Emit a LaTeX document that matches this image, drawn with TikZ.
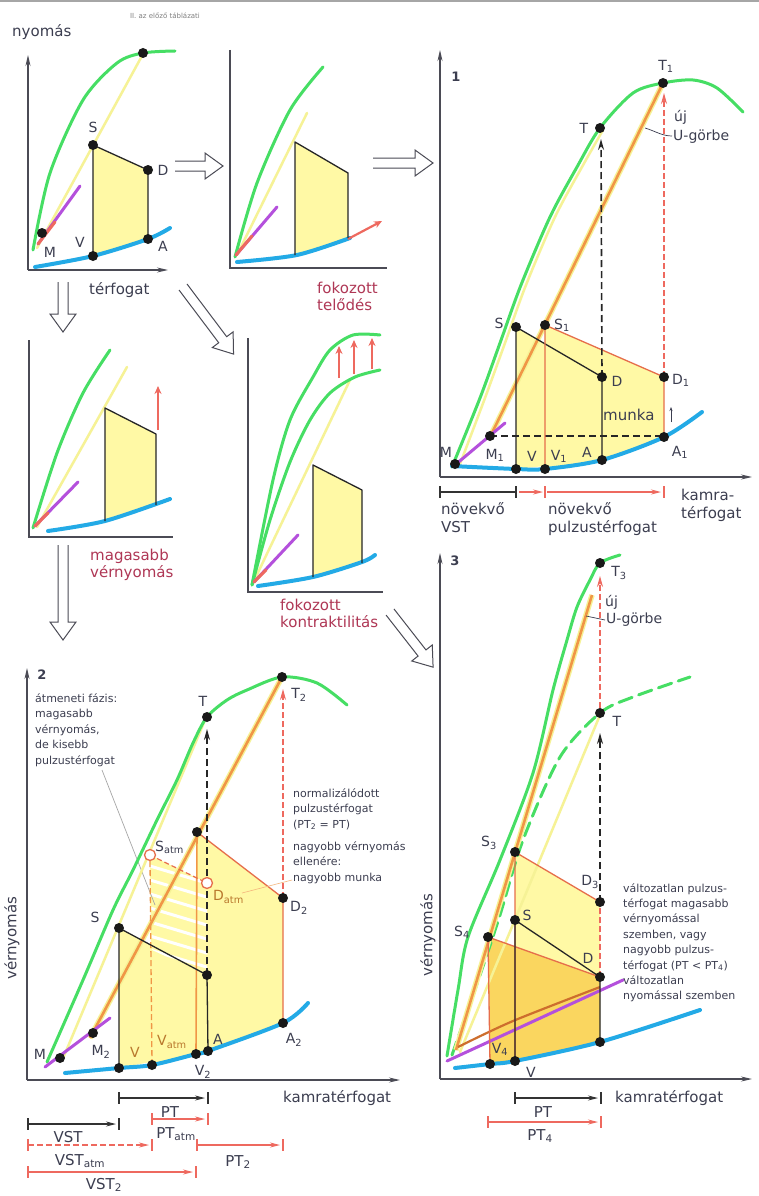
\documentclass[tikz,border=0pt]{standalone}
\usepackage{fontspec}
\setmainfont{DejaVu Sans}
\usetikzlibrary{arrows.meta}
\definecolor{grn}{RGB}{70,222,100}
\definecolor{paley}{RGB}{246,242,150}
\definecolor{fillY}{RGB}{255,249,165}
\definecolor{goldY}{RGB}{250,214,95}
\definecolor{blu}{RGB}{35,170,230}
\definecolor{purp}{RGB}{180,80,220}
\definecolor{orng}{RGB}{240,150,70}
\definecolor{redl}{RGB}{238,105,95}
\definecolor{rline}{RGB}{230,110,75}
\definecolor{maroon}{RGB}{175,55,85}
\definecolor{txt}{RGB}{60,62,80}
\definecolor{axc}{RGB}{75,75,85}
\definecolor{brn}{RGB}{205,110,45}
\definecolor{atmc}{RGB}{185,120,45}
\tikzset{
 axis/.style={draw=axc, line width=1.3pt},
 axarr/.style={axis, -{Stealth[length=11pt,width=5pt]}},
 gcurve/.style={draw=grn, line width=3pt, line cap=round},
 ycurve/.style={draw=paley, line width=2.5pt, line cap=round},
 bcurve/.style={draw=blu, line width=4pt, line cap=round},
 pcurve/.style={draw=purp, line width=3pt, line cap=round},
 rcurve/.style={draw=redl, line width=3pt, line cap=round},
 ocurve/.style={draw=orng, line width=2.6pt},
 oborder/.style={draw=paley, line width=5.5pt},
 quad/.style={draw=black!85, line width=1.3pt, line join=round},
 rquad/.style={draw=rline, line width=1.3pt, line join=round},
 lab/.style={text=txt, font=\fontsize{14}{16}\selectfont, inner sep=0pt},
 axlab/.style={text=txt, font=\fontsize{15}{18}\selectfont, inner sep=0pt},
 small/.style={text=txt, font=\fontsize{11}{15.5}\selectfont, inner sep=0pt, align=left, anchor=north west},
 redlab/.style={text=maroon, font=\fontsize{15}{17}\selectfont, inner sep=0pt, align=left, anchor=north west},
 numlab/.style={text=txt, font=\bfseries\fontsize{13}{15}\selectfont, inner sep=0pt},
 harrowst/.style={draw=axc, line width=1pt, fill=white, line join=miter},
 dashblk/.style={draw=black!85, line width=1.6pt, dash pattern=on 7pt off 4pt, -{Stealth[length=11pt,width=6pt]}},
 dashred/.style={draw=redl, line width=1.2pt, dash pattern=on 6pt off 3pt, -{Stealth[length=11pt,width=6pt]}},
 barblk/.style={draw=black!80, line width=1.3pt},
 barred/.style={draw=redl, line width=1.3pt},
 tipb/.style={-{Stealth[length=10pt,width=5pt]}},
 redarr/.style={draw=redl, line width=2.2pt, -{Stealth[length=8pt,width=7pt]}},
}
\newcommand\harr[4]{\begin{scope}[shift={(#1,#2)},rotate=#3]
 \draw[harrowst] (0,5) -- ({#4-18},5) -- ({#4-18},13) -- (#4,0) -- ({#4-18},-13) -- ({#4-18},-5) -- (0,-5);
 \end{scope}}
\newcommand\dt[1]{\fill[black!90] (#1) circle (5pt);}
\newcommand\tk[3]{\draw[#3, line width=1.3pt] (#1,{#2-6}) -- (#1,{#2+6});}
\begin{document}
\begin{tikzpicture}[x=1pt,y=-1pt]
\useasboundingbox (0,0) rectangle (759,1196);
\fill[white] (0,0) rectangle (759,1196);
\draw[gray!70, line width=2pt] (0,1) -- (759,1);
\node[text=gray, font=\fontsize{7}{8}\selectfont, inner sep=0pt] (hdr) at (165,16) {II. az előző táblázati};

% ---------- hollow arrows between panels ----------
\harr{175}{166}{0}{48}
\harr{373}{163}{0}{60}
\harr{63}{282}{-90}{50}
\harr{183}{287}{-53}{84}
\harr{63}{545}{-90}{95}
\harr{390}{612}{-52}{70}

% ---------- Panel A ----------
\draw[axarr] (28,270) -- (28,55);
\draw[axarr] (28,270) -- (168,270);
\fill[fillY] (93,145) -- (148,170) -- (148,239) -- (93,256) -- cycle;
\draw[ycurve] (37,248) -- (143,54);
\draw[gcurve] plot[smooth] coordinates {(33,250) (50,173) (83,100) (117,63) (143,53) (175,51)};
\draw[pcurve] (38,244) -- (80,186);
\draw[rcurve] (38,244) -- (55,222);
\draw[bcurve] plot[smooth] coordinates {(35,267) (93,256) (148,239) (170,228)};
\draw[quad] (93,256) -- (93,145) -- (148,170) -- (148,239);
\dt{143,53} \dt{93,145} \dt{148,170} \dt{148,239} \dt{93,256} \dt{42,233}
\node[axlab,anchor=west] (tnyo) at (12,32) {nyomás};
\node[lab] (aS) at (93,127) {S};
\node[lab] (aD) at (163,170) {D};
\node[lab] (aV) at (80,242) {V};
\node[lab] (aA) at (163,246) {A};
\node[lab] (aM) at (50,252) {M};
\node[axlab,anchor=west] (aterf) at (89,290) {térfogat};

% ---------- Panel B ----------
\draw[axis] (230,50) -- (230,268) -- (387,268);
\fill[fillY] (295,142) -- (348,173) -- (348,238) -- (295,255) -- cycle;
\draw[ycurve] (237,255) -- (307,113);
\draw[gcurve] plot[smooth] coordinates {(235,257) (257,183) (290,110) (323,67)};
\draw[pcurve] (236,255) -- (277,207);
\draw[rcurve] (236,255) -- (252,236);
\draw[bcurve] plot[smooth] coordinates {(237,262) (297,255) (350,238)};
\draw[redarr] (348,239) -- (382,221);
\draw[quad] (295,255) -- (295,142) -- (348,173) -- (348,238);
\node[redlab] (bfok) at (317,282) {fokozott\\telődés};

% ---------- Panel C ----------
\draw[axis] (29,340) -- (29,537) -- (173,537);
\fill[fillY] (105,408) -- (156,434) -- (156,505) -- (105,521) -- cycle;
\draw[ycurve] (37,527) -- (127,367);
\draw[gcurve] plot[smooth] coordinates {(33,528) (57,453) (83,393) (110,350)};
\draw[pcurve] (35,526) -- (78,482);
\draw[rcurve] (35,526) -- (48,513);
\draw[bcurve] plot[smooth] coordinates {(48,531) (105,521) (170,499)};
\draw[quad] (105,521) -- (105,408) -- (156,434) -- (156,505);
\draw[redarr] (158,430) -- (158,386);
\node[redlab] (cmag) at (90,549) {magasabb\\vérnyomás};

% ---------- Panel D ----------
\draw[axis] (248,338) -- (248,592) -- (383,592);
\fill[fillY] (313,465) -- (362,490) -- (362,563) -- (313,577) -- cycle;
\draw[ycurve] (253,583) -- (350,380);
\draw[gcurve] plot[smooth] coordinates {(252,585) (273,480) (290,420) (313,377) (330,350) (353,335) (380,335)};
\draw[gcurve] plot[smooth] coordinates {(252,585) (270,520) (290,462) (310,420) (330,393) (355,377) (380,370)};
\draw[redarr] (339,378) -- (339,346);
\draw[redarr] (354,374) -- (354,340);
\draw[redarr] (372,369) -- (372,338);
\draw[pcurve] (254,582) -- (298,535);
\draw[rcurve] (254,582) -- (266,570);
\draw[bcurve] plot[smooth] coordinates {(258,586) (313,577) (362,562) (375,555)};
\draw[quad] (313,577) -- (313,465) -- (362,490) -- (362,563);
\node[redlab] (dfok) at (280,599) {fokozott\\kontraktilitás};

% ---------- Panel 1 ----------
\draw[axarr] (440,477) -- (440,50);
\draw[axarr] (440,477) -- (752,477);
\node[numlab] (n1) at (456,77) {1};
\fill[fillY] (516,327) -- (602,377) -- (602,460) -- (516,469) -- cycle;
\fill[fillY] (545,325) -- (664,377) -- (664,437) -- (602,460) -- (545,469) -- cycle;
\draw[ycurve, xshift=5pt] plot[smooth] coordinates {(455,464) (480,398) (500,343) (521,285) (550,217) (577,167) (598,130)};
\draw[gcurve] plot[smooth] coordinates {(452,467) (480,398) (500,343) (521,285) (550,217) (577,167) (600,128) (633,93) (663,83) (693,80) (717,88) (743,112)};
\draw[oborder] (490,437) -- (663,83);
\draw[ocurve] (490,437) -- (663,83);
\draw[pcurve] (455,465) -- (505,423);
\draw[bcurve] plot[smooth] coordinates {(452,466) (516,469) (545,469) (602,460) (664,437) (702,412)};
\draw[black!85, line width=1.4pt, dash pattern=on 7pt off 4pt] (490,436) -- (664,436);
\draw[quad] (516,469) -- (516,327) -- (602,377) -- (602,460);
\draw[rquad] (545,469) -- (545,325) -- (664,377) -- (664,437);
\draw[dashblk] (602,377) -- (601,139);
\draw[dashred] (664,377) -- (664,93);
\draw[txt, line width=0.8pt, -{Stealth[length=4pt,width=3pt]}] (671,422) -- (671,407);
\draw[txt, line width=0.7pt] (645,128) .. controls (655,131) and (662,136) .. (672,136);
\dt{600,128} \dt{663,83} \dt{516,327} \dt{545,325} \dt{602,377} \dt{664,377}
\dt{455,464} \dt{490,436} \dt{516,469} \dt{545,469} \dt{602,460} \dt{664,437}
\node[lab] (pT) at (584,128) {T};
\node[lab] (pT1) at (666,66) {T\textsubscript{1}};
\node[lab,anchor=west] (puj) at (674,117) {új};
\node[lab,anchor=west] (pUg) at (673,137) {U-görbe};
\node[lab] (pS) at (499,323) {S};
\node[lab,anchor=west] (pS1) at (554,325) {S\textsubscript{1}};
\node[lab] (pD) at (617,381) {D};
\node[lab,anchor=west] (pD1) at (672,380) {D\textsubscript{1}};
\node[axlab,anchor=west] (pmunka) at (603,415) {munka};
\node[lab] (pM) at (446,452) {M};
\node[lab] (pM1) at (495,455) {M\textsubscript{1}};
\node[lab] (pV) at (532,456) {V};
\node[lab] (pV1) at (559,456) {V\textsubscript{1}};
\node[lab] (pA) at (587,452) {A};
\node[lab] (pA1) at (680,452) {A\textsubscript{1}};
\draw[barblk] (440,492) -- (516,492);
\tk{440}{492}{black!80} \tk{516}{492}{black!80}
\draw[barred,tipb] (519,492) -- (543,492);
\draw[barred,tipb] (547,492) -- (661,492);
\tk{545}{492}{redl} \tk{664}{492}{redl}
\node[axlab,anchor=north west,align=left] (pnv) at (441,502) {növekvő\\VST};
\node[axlab,anchor=north west,align=left] (pnp) at (548,502) {növekvő\\pulzustérfogat};
\node[axlab,anchor=north west,align=left] (pkt) at (681,489) {kamra-\\térfogat};

% ---------- Panel 2 ----------
\draw[axarr] (27,1080) -- (27,668);
\draw[axarr] (27,1080) -- (400,1080);
\node[numlab] (n2) at (42,675) {2};
\node[axlab,rotate=90] (vny2) at (12,938) {vérnyomás};
\fill[fillY] (197,832) -- (283,898) -- (283,1023) -- (196,1054) -- cycle;
\fill[fillY] (119,928) -- (207,975) -- (208,1051) -- (119,1068) -- cycle;
\fill[fillY] (150,855) -- (207,883) -- (207,1051) -- (152,1065) -- cycle;
\begin{scope}
\clip (150,855) -- (207,883) -- (207,975) -- (152,950) -- cycle;
\foreach \k in {0,...,9} \draw[white, line width=3pt] (140,{835+\k*14}) -- (220,{859+\k*14});
\end{scope}
\draw[gray!70, line width=0.7pt] (102,770) -- (155,905);
\draw[ycurve] (64,1056) -- (205,720);
\draw[gcurve] plot[smooth] coordinates {(47,1062) (83,980) (113,910) (133,870) (157,820) (177,780) (193,743) (207,717) (227,700) (247,690) (282,677) (317,683) (347,705)};
\draw[oborder] (90,1038) -- (282,677);
\draw[ocurve] (90,1038) -- (282,677);
\draw[pcurve] (45,1067) -- (110,1018);
\draw[bcurve] plot[smooth] coordinates {(65,1073) (119,1068) (152,1065) (196,1054) (208,1051) (283,1023) (308,1003)};
\draw[orng, line width=1.3pt, dash pattern=on 6pt off 3pt] (152,1065) -- (150,860);
\draw[orng, line width=1.6pt] (196,1054) -- (197,832);
\draw[rquad] (197,832) -- (283,898) -- (283,1023);
\draw[rline, line width=1.2pt, dash pattern=on 5pt off 3pt] (150,855) -- (207,883);
\draw[quad] (119,1068) -- (119,928) -- (207,975) -- (208,1051);
\draw[dashblk] (207,975) -- (207,729);
\draw[dashred] (283,898) -- (283,689);
\draw[orng!70, line width=0.6pt] (242,893) -- (292,880);
\dt{60,1058} \dt{93,1033} \dt{119,928} \dt{207,975} \dt{119,1068} \dt{152,1065}
\dt{196,1054} \dt{208,1051} \dt{283,1023} \dt{283,898} \dt{197,832} \dt{207,717} \dt{282,677}
\draw[rline, line width=1.3pt, fill=white] (150,855) circle (5.5pt);
\draw[rline, line width=1.3pt, fill=white] (207,883) circle (5.5pt);
\node[lab] (qT) at (203,701) {T};
\node[lab] (qT2) at (299,695) {T\textsubscript{2}};
\node[lab] (qS) at (95,917) {S};
\node[lab,anchor=west] (qSa) at (155,847) {S\textsubscript{atm}};
\node[lab,anchor=west,text=atmc] (qDa) at (213,897) {D\textsubscript{atm}};
\node[lab] (qD2) at (299,908) {D\textsubscript{2}};
\node[lab] (qM) at (40,1054) {M};
\node[lab] (qM2) at (101,1052) {M\textsubscript{2}};
\node[lab,text=atmc] (qV) at (135,1052) {V};
\node[lab,anchor=west,text=atmc] (qVa) at (157,1042) {V\textsubscript{atm}};
\node[lab] (qA) at (218,1039) {A};
\node[lab] (qV2) at (203,1072) {V\textsubscript{2}};
\node[lab] (qA2) at (294,1040) {A\textsubscript{2}};
\node[small] (qtx1) at (35,693) {átmeneti fázis:\\magasabb\\vérnyomás,\\de kisebb\\pulzustérfogat};
\node[small] (qtx2) at (293,788) {normalizálódott\\pulzustérfogat\\(PT\textsubscript{2} = PT)};
\node[small] (qtx3) at (293,841) {nagyobb vérnyomás\\ellenére:\\nagyobb munka};
\draw[barblk,tipb] (119,1098) -- (205,1098);
\tk{119}{1098}{black!80} \tk{208}{1098}{black!80}
\draw[barred,tipb] (152,1119) -- (205,1119);
\tk{152}{1119}{redl} \tk{208}{1119}{redl}
\draw[barblk,tipb] (28,1124) -- (116,1124);
\tk{28}{1124}{black!80} \tk{119}{1124}{black!80}
\draw[barred,dash pattern=on 6pt off 3pt,tipb] (28,1145) -- (149,1145);
\tk{28}{1145}{redl} \tk{152}{1145}{redl}
\draw[barred,tipb] (197,1145) -- (280,1145);
\tk{197}{1145}{redl} \tk{283}{1145}{redl}
\draw[barred,tipb] (28,1172) -- (193,1172);
\tk{28}{1172}{redl} \tk{196}{1172}{redl}
\node[axlab] (qPT) at (170,1112) {PT};
\node[axlab] (qPTa) at (176,1134) {PT\textsubscript{atm}};
\node[axlab] (qVST) at (68,1137) {VST};
\node[axlab] (qVSTa) at (80,1161) {VST\textsubscript{atm}};
\node[axlab] (qPT2) at (238,1162) {PT\textsubscript{2}};
\node[axlab] (qVST2) at (104,1185) {VST\textsubscript{2}};
\node[axlab,anchor=west] (qkt) at (283,1098) {kamratérfogat};

% ---------- Panel 3 ----------
\draw[axarr] (440,1079) -- (440,553);
\draw[axarr] (440,1079) -- (752,1079);
\node[numlab] (n3) at (455,561) {3};
\node[axlab,rotate=90] (vny3) at (428,935) {vérnyomás};
\fill[fillY] (515,852) -- (600,902) -- (600,1042) -- (515,1061) -- cycle;
\fill[goldY] (488,937) -- (600,977) -- (600,1042) -- (515,1061) -- (490,1064) -- cycle;
\draw[ycurve] (460,1052) -- (600,715);
\draw[gcurve, dash pattern=on 14pt off 7pt] plot[smooth] coordinates {(452,1055) (480,975) (500,915) (523,840) (560,757) (600,713) (633,697) (690,677)};
\draw[gcurve] plot[smooth] coordinates {(447,1056) (458,990) (468,937) (500,860) (533,773) (553,690) (567,640) (577,607) (590,580) (600,563) (620,555)};
\draw[oborder] (456,1050) -- (592,595);
\draw[ocurve] (456,1050) -- (592,595);
\draw[pcurve] (447,1061) -- (623,980);
\draw[brn, line width=2.2pt] plot[smooth] coordinates {(458,1047) (513,1021) (600,987)};
\draw[bcurve] plot[smooth] coordinates {(455,1068) (490,1064) (515,1061) (600,1042) (700,1010)};
\draw[rquad] (515,1061) -- (515,852) -- (600,902);
\draw[rquad] (490,1064) -- (488,937) -- (600,977);
\draw[quad] (515,1061) -- (515,920) -- (600,977) -- (600,1042);
\draw[dashblk] (600,902) -- (600,733);
\draw[redl, line width=1.4pt, dash pattern=on 6pt off 3pt] (600,977) -- (600,902);
\draw[dashred] (600,708) -- (600,576);
\draw[txt, line width=0.7pt] (586,616) -- (605,620);
\dt{600,563} \dt{600,713} \dt{515,852} \dt{600,902} \dt{515,920} \dt{488,937}
\dt{600,977} \dt{600,1042} \dt{490,1064} \dt{515,1061}
\node[lab] (rT3) at (619,573) {T\textsubscript{3}};
\node[lab] (rT) at (617,721) {T};
\node[lab,anchor=west] (ruj) at (605,602) {új};
\node[lab,anchor=west] (rUg) at (606,620) {U-görbe};
\node[lab] (rS3) at (489,843) {S\textsubscript{3}};
\node[lab] (rD3) at (590,882) {D\textsubscript{3}};
\node[lab] (rS) at (527,915) {S};
\node[lab] (rS4) at (462,932) {S\textsubscript{4}};
\node[lab] (rD) at (588,958) {D};
\node[lab] (rV4) at (500,1049) {V\textsubscript{4}};
\node[lab] (rV) at (531,1072) {V};
\node[small,font=\fontsize{11}{15.4}\selectfont] (rtx) at (623,883) {változatlan pulzus-\\térfogat magasabb\\vérnyomással\\szemben, vagy\\nagyobb pulzus-\\térfogat (PT < PT\textsubscript{4})\\változatlan\\nyomással szemben};
\draw[barblk,tipb] (515,1098) -- (598,1098);
\tk{515}{1098}{black!80} \tk{601}{1098}{black!80}
\draw[barred,tipb] (488,1122) -- (598,1122);
\tk{488}{1122}{redl} \tk{601}{1122}{redl}
\node[axlab] (rPT) at (543,1112) {PT};
\node[axlab] (rPT4) at (540,1136) {PT\textsubscript{4}};
\node[axlab,anchor=west] (rkt) at (615,1098) {kamratérfogat};
\end{tikzpicture}
\end{document}
